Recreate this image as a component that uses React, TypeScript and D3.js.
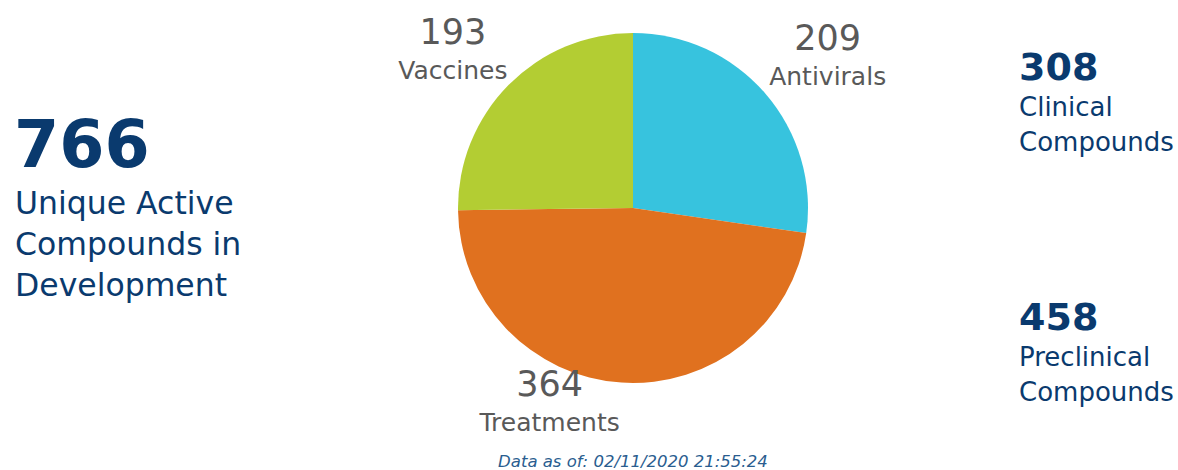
import React from "react";
import * as d3 from "d3";

const categories = ["Antivirals", "Treatments", "Vaccines"];
const values = [209, 364, 193];
const colors = ["#37C3DE", "#E0711F", "#B3CD33"];
const totalLabel = ["Unique Active", "Compounds in", "Development"];
const sideStats = [
  { value: 308, lines: ["Clinical", "Compounds"] },
  { value: 458, lines: ["Preclinical", "Compounds"] },
];
const dateText = "Data as of: 02/11/2020 21:55:24";

const W = 1178;
const H = 470;
const cx = 633;
const cy = 208;
const R = 175;
// label nudges per slice (layout)
const labelOffsets = [
  { dx: 17, dy: 6 },
  { dx: -68, dy: -36 },
  { dx: -13, dy: 11 },
];

const NAVY = "#0A3A6E";
const GREY = "#595959";
const FONT = "'DejaVu Sans', Verdana, sans-serif";

export default function App() {
  const total = d3.sum(values);
  const pie = d3.pie<number>().sort(null).value((d) => d);
  const arcs = pie(values);
  const arc = d3.arc<d3.PieArcDatum<number>>().innerRadius(0).outerRadius(R);
  const labelArc = d3
    .arc<d3.PieArcDatum<number>>()
    .innerRadius(R + 60)
    .outerRadius(R + 60);

  return (
    <svg
      width={W}
      height={H}
      style={{ position: "absolute", left: 0, top: 0, background: "#fff" }}
      fontFamily={FONT}
    >
      <g transform={`translate(${cx},${cy})`}>
        {arcs.map((a, i) => (
          <path key={i} d={arc(a) || ""} fill={colors[i]} />
        ))}
        {arcs.map((a, i) => {
          const [x, y] = labelArc.centroid(a);
          const lx = x + labelOffsets[i].dx;
          const ly = y + labelOffsets[i].dy;
          return (
            <g key={"l" + i} transform={`translate(${lx},${ly})`} fill={GREY} textAnchor="middle">
              <text y={-10} fontSize={35}>
                {values[i]}
              </text>
              <text y={25} fontSize={25}>
                {categories[i]}
              </text>
            </g>
          );
        })}
      </g>

      <g fill={NAVY}>
        <text x={14} y={167} fontSize={65} fontWeight="bold">
          {total}
        </text>
        {totalLabel.map((t, i) => (
          <text key={t} x={15} y={214 + i * 41} fontSize={31.5}>
            {t}
          </text>
        ))}
      </g>

      {sideStats.map((s, k) => (
        <g key={k} fill={NAVY} transform={`translate(1019,${80 + k * 250})`}>
          <text x={0} y={0} fontSize={38} fontWeight="bold">
            {s.value}
          </text>
          {s.lines.map((t, i) => (
            <text key={i} x={0} y={36 + i * 35} fontSize={26}>
              {t}
            </text>
          ))}
        </g>
      ))}

      <text
        x={cx}
        y={467}
        textAnchor="middle"
        fontSize={16.5}
        fontStyle="italic"
        fill="#2A5D8F"
      >
        {dateText}
      </text>
    </svg>
  );
}
